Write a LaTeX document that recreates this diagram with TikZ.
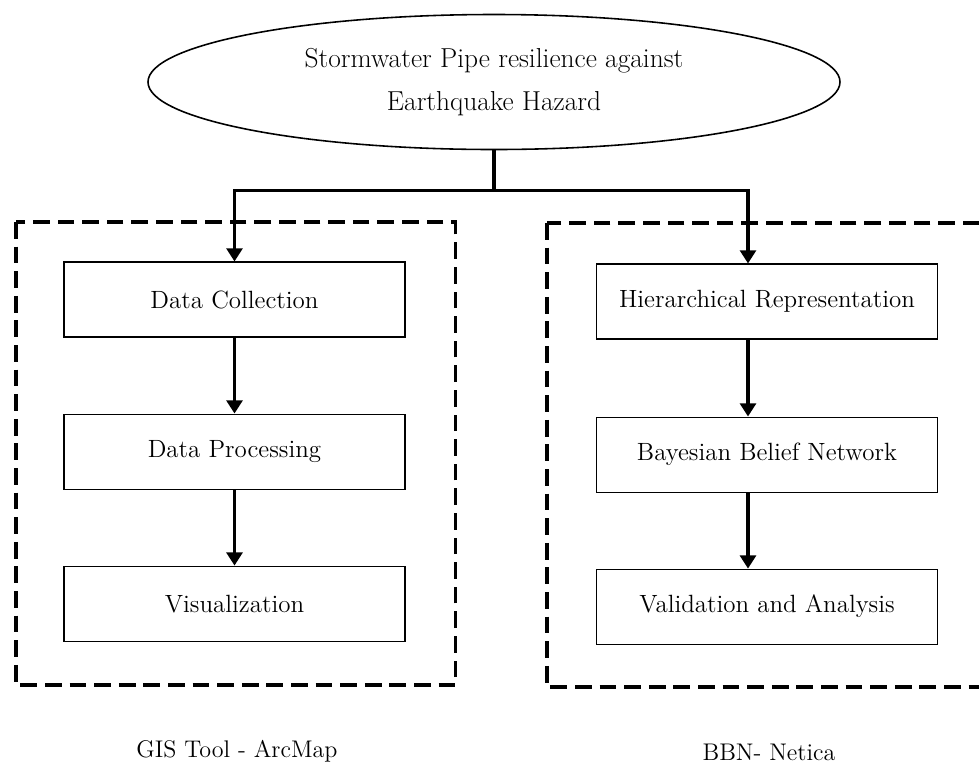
\documentclass[tikz,border=0pt]{standalone}
\usetikzlibrary{positioning,arrows.meta,shapes.geometric}

\tikzset{
  stepbox/.style={draw, line width=0.6pt, minimum width=6.82cm, minimum height=1.5cm,
    font=\fontsize{14.2}{17}\selectfont},
  conn/.style={line width=2pt},
  arrow/.style={conn, -{Triangle[width=9pt,length=7.5pt]}},
  frame/.style={line width=2pt, dash pattern=on 9.5pt off 4.5pt},
  caption/.style={font=\fontsize{13.7}{16}\selectfont}
}

\begin{document}
\begin{tikzpicture}
  \useasboundingbox (0,0) rectangle (19.58,-15.26);
  \clip (0,0) rectangle (19.58,-15.26);

  \pgfmathsetmacro{\shift}{-0.38} % right arrows sit left of the box centre

  % Dashed frames
  \draw[frame] (0.32,-4.44) rectangle (9.11,-13.7);
  \draw[frame] (10.94,-4.46) rectangle (20.5,-13.74);

  % Goal
  \node[draw, ellipse, line width=0.9pt, minimum width=13.84cm, minimum height=2.7cm,
        align=center, font=\fontsize{15.6}{24.4}\selectfont] (goal) at (9.88,-1.64)
        {Stormwater Pipe resilience against\\Earthquake Hazard};

  % GIS steps
  \node[stepbox] (collect) at (4.69,-5.99) {Data Collection};
  \node[stepbox, below=1.52cm of collect] (process) {Data Processing};
  \node[stepbox, below=1.52cm of process] (visual) {Visualization};

  % BBN steps
  \node[stepbox] (hier) at (15.34,-6.03) {Hierarchical Representation};
  \node[stepbox, below=1.54cm of hier] (belief) {Bayesian Belief Network};
  \node[stepbox, below=1.52cm of belief] (valid) {Validation and Analysis};

  % Tool labels
  \node[caption] (gis) at (4.74,-15.02) {GIS Tool - ArcMap};
  \node[caption] (bbn) at (15.38,-15.04) {BBN- Netica};

  % Fork from the goal
  \draw[conn] (goal.south) -- ++(0,-0.8) coordinate (fork);
  \draw[arrow] (fork) -| (collect.north);
  \draw[arrow] (fork) -| ([xshift=\shift cm]hier.north);

  % Flow inside each frame
  \draw[arrow] (collect) -- (process);
  \draw[arrow] (process) -- (visual);
  \draw[arrow] ([xshift=\shift cm]hier.south) -- ([xshift=\shift cm]belief.north);
  \draw[arrow] ([xshift=\shift cm]belief.south) -- ([xshift=\shift cm]valid.north);

\end{tikzpicture}
\end{document}
